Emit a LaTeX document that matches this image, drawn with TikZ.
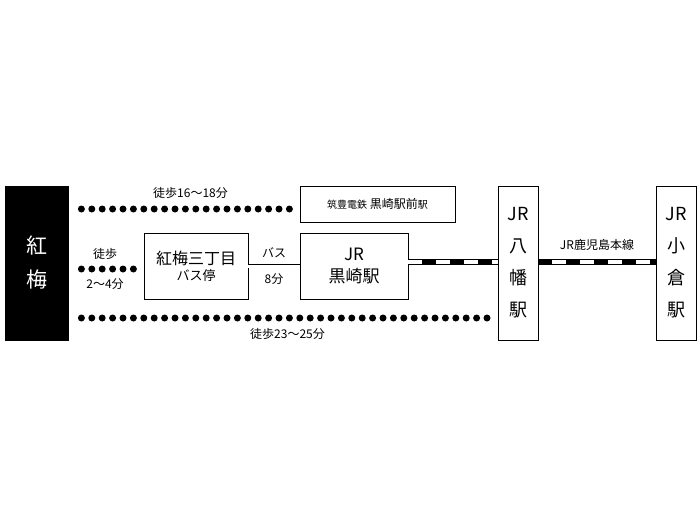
\documentclass[tikz,border=0pt]{standalone}
\usepackage{fontspec}
\setmainfont{Noto Sans CJK JP}
\begin{document}
\begin{tikzpicture}[x=1pt,y=-1pt,
                    box/.style={draw,thick,fill=white,inner sep=0pt},
                    walk/.style={line width=7pt,line cap=round,dash pattern=on 0pt off 10.4pt},
                    rail/.style={line width=6pt}]
  \useasboundingbox (0,0) rectangle (700,525);

  \node[box,fill=black,text=white,minimum width=63pt,minimum height=154pt,font=\fontsize{21}{34}\selectfont,align=center] (kobai) at (36.5,263) {紅\\梅};
  \node[box,minimum width=155pt,minimum height=36pt,font=\fontsize{12}{14}\selectfont] (chikuho) at (377.5,204) {{\fontsize{10}{12}\selectfont 筑豊電鉄}\ 黒崎駅前{\fontsize{10}{12}\selectfont 駅}};
  \node[box,minimum width=104pt,minimum height=66pt,align=center] (stop) at (196,266) {{\fontsize{16}{20}\selectfont 紅梅三丁目}\\[3pt]{\fontsize{13}{16}\selectfont バス停}};
  \node[box,minimum width=108pt,minimum height=66pt,align=center,font=\fontsize{17}{22}\selectfont] (kurosaki) at (354,266) {JR\\黒崎駅};
  \node[box,minimum width=40pt,minimum height=154pt,align=center,font=\fontsize{18}{32}\selectfont] (yahata) at (518,263) {JR\\八\\幡\\駅};
  \node[box,minimum width=40pt,minimum height=154pt,align=center,font=\fontsize{18}{32}\selectfont] (kokura) at (676,263) {JR\\小\\倉\\駅};

  % walking routes
  \draw[walk] ([xshift=13pt]kobai.east |- 0,209) -- (chikuho.west |- 0,209)
    node[midway,above=4pt,font=\fontsize{12}{14}\selectfont] {徒歩16〜18分};
  \draw[walk] ([xshift=13pt]kobai.east |- 0,269) -- ([xshift=-4pt]stop.west |- 0,269);
  \node[font=\fontsize{12}{14}\selectfont] (w1) at (105,254) {徒歩};
  \node[font=\fontsize{12}{14}\selectfont] (w2) at (105,284) {2〜4分};
  \draw[walk] ([xshift=13pt]kobai.east |- 0,318) -- ([xshift=-4pt]yahata.west |- 0,318)
    node[midway,below=4pt,font=\fontsize{12}{14}\selectfont] {徒歩23〜25分};

  % bus
  \draw[double distance=3pt,thick] (stop.east |- 0,266) -- (kurosaki.west |- 0,266)
    node[midway,above=4pt,font=\fontsize{12}{14}\selectfont] {バス}
    node[midway,below=4pt,font=\fontsize{12}{14}\selectfont] {8分};

  % railway
  \draw[rail] (kurosaki.east |- 0,262) -- (yahata.west |- 0,262);
  \draw[rail,white,line width=4pt,dash pattern=on 14pt off 14pt] (kurosaki.east |- 0,262) -- (yahata.west |- 0,262);
  \draw[rail] (yahata.east |- 0,262) -- (kokura.west |- 0,262)
    node[midway,above=5pt,font=\fontsize{12}{14}\selectfont] {JR鹿児島本線};
  \draw[rail,white,line width=4pt,dash pattern=on 14pt off 14pt,dash phase=-14pt] (yahata.east |- 0,262) -- (kokura.west |- 0,262);
\end{tikzpicture}
\end{document}
